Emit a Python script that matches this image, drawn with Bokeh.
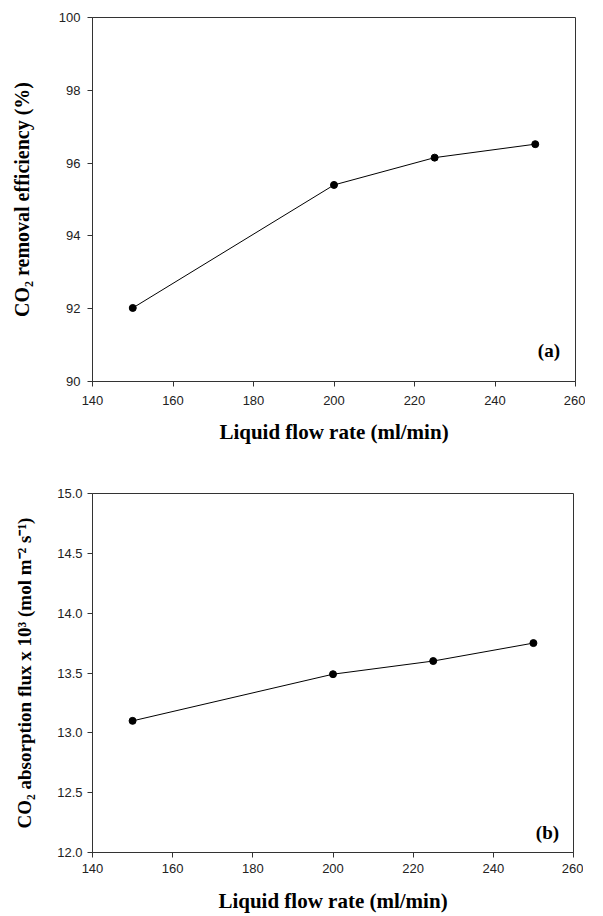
from bokeh.plotting import figure
from bokeh.layouts import column
from bokeh.models import Label, FixedTicker, NumeralTickFormatter
from bokeh.embed import file_html
from bokeh.resources import INLINE

# ---- data ----
flow_rate = [150, 200, 225, 250]
removal_eff = [92.02, 95.40, 96.15, 96.52]
abs_flux = [13.10, 13.49, 13.60, 13.75]

x_ticks = [140, 160, 180, 200, 220, 240, 260]
y_ticks_a = [90, 92, 94, 96, 98, 100]
y_ticks_b = [12.0, 12.5, 13.0, 13.5, 14.0, 14.5, 15.0]

x_label = "Liquid flow rate (ml/min)"
y_label_a = "CO\u2082 removal efficiency (%)"
y_label_b = "CO\u2082 absorption flux x 10\u00b3 (mol m\u207b\u00b2 s\u207b\u00b9)"

SERIF = "Liberation Serif"
SANS = "Liberation Sans"


def style(p, xt, yt, yfmt, ylab_size, y_label_standoff, y_major_standoff,
          x_major_standoff, x_label_standoff):
    p.xaxis.ticker = FixedTicker(ticks=xt)
    p.yaxis.ticker = FixedTicker(ticks=yt)
    p.yaxis.formatter = NumeralTickFormatter(format=yfmt)
    p.xgrid.grid_line_color = None
    p.ygrid.grid_line_color = None
    p.outline_line_color = "#333333"
    p.outline_line_width = 1
    for ax in (p.xaxis, p.yaxis):
        ax.axis_line_color = "#333333"
        ax.major_tick_line_color = "#333333"
        ax.minor_tick_line_color = None
        ax.major_tick_in = 0
        ax.major_tick_out = 5
        ax.major_label_text_font = SANS
        ax.major_label_text_font_size = "13px"
        ax.major_label_text_color = "#222222"
        ax.axis_label_text_font = SERIF
        ax.axis_label_text_font_style = "bold"
        ax.axis_label_text_color = "black"
    p.xaxis.axis_label_text_font_size = "21px"
    p.yaxis.axis_label_text_font_size = ylab_size
    p.xaxis.major_label_standoff = x_major_standoff
    p.xaxis.axis_label_standoff = x_label_standoff
    p.yaxis.major_label_standoff = y_major_standoff
    p.yaxis.axis_label_standoff = y_label_standoff


# ---- panel (a) ----
pa = figure(width=585, height=452, x_range=(140, 260), y_range=(90, 100),
            output_backend="svg", toolbar_location=None,
            min_border_left=87, min_border_right=10, min_border_top=17,
            min_border_bottom=71)
pa.line(flow_rate, removal_eff, line_color="black", line_width=1)
pa.scatter(flow_rate, removal_eff, size=7, color="black")
pa.xaxis.axis_label = x_label
pa.yaxis.axis_label = y_label_a
style(pa, x_ticks, y_ticks_a, "0", "20px", 23, 7, 9, 12)
pa.add_layout(Label(x=253.4, y=90.85, text="(a)", text_font=SERIF,
                    text_font_style="bold", text_font_size="19px",
                    text_color="black",
                    text_align="center", text_baseline="middle"))

# ---- panel (b) ----
pb = figure(width=583, height=464, x_range=(140, 260), y_range=(12, 15),
            output_backend="svg", toolbar_location=None,
            min_border_left=92, min_border_right=10, min_border_top=41,
            min_border_bottom=64)
pb.line(flow_rate, abs_flux, line_color="black", line_width=1)
pb.scatter(flow_rate, abs_flux, size=7, color="black")
pb.xaxis.axis_label = x_label
pb.yaxis.axis_label = y_label_b
style(pb, x_ticks, y_ticks_b, "0.0", "19px", 19, 5, 6, 13)
pb.add_layout(Label(x=253.5, y=12.17, text="(b)", text_font=SERIF,
                    text_font_style="bold", text_font_size="19px",
                    text_color="black",
                    text_align="center", text_baseline="middle"))

layout = column(pa, pb, spacing=0)
open("out.html", "w").write(file_html(layout, INLINE))
